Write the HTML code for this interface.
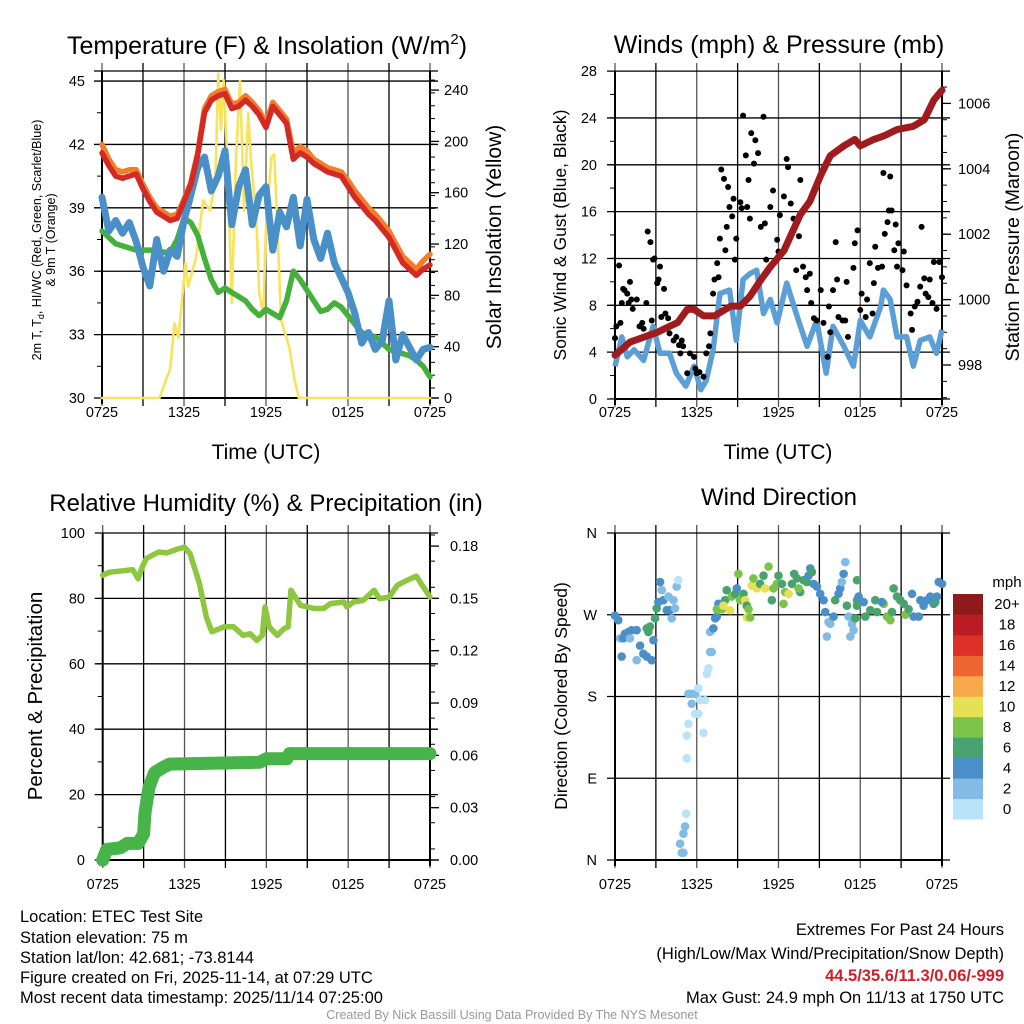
<!DOCTYPE html>
<html><head><meta charset="utf-8"><title>Mesonet Meteogram</title>
<style>
body{margin:0;background:#fff;}
svg{display:block;font-family:"Liberation Sans",Arial,sans-serif;}
</style></head>
<body>
<svg id="fig" width="1024" height="1024" viewBox="0 0 1024 1024" xmlns="http://www.w3.org/2000/svg">
<rect width="1024" height="1024" fill="#fff"/>
<g id="p1"></g>
<g id="p2"></g>
<g id="p3"></g>
<g id="p4"></g>
<g id="txt" font-size="16.5" fill="#000">
<text x="20" y="922">Location: ETEC Test Site</text>
<text x="20" y="943">Station elevation: 75 m</text>
<text x="20" y="963">Station lat/lon: 42.681; -73.8144</text>
<text x="20" y="983">Figure created on Fri, 2025-11-14, at 07:29 UTC</text>
<text x="20" y="1003">Most recent data timestamp: 2025/11/14 07:25:00</text>
<text x="1004" y="935" text-anchor="end">Extremes For Past 24 Hours</text>
<text x="1004" y="959" text-anchor="end">(High/Low/Max Wind/Precipitation/Snow Depth)</text>
<text x="1004" y="981" text-anchor="end" fill="#d0202a" font-weight="bold">44.5/35.6/11.3/0.06/-999</text>
<text x="1004" y="1003" text-anchor="end">Max Gust: 24.9 mph On 11/13 at 1750 UTC</text>
<text x="512" y="1019" text-anchor="middle" font-size="12.5" fill="#999">Created By Nick Bassill Using Data Provided By The NYS Mesonet</text>
</g>
</svg>
<script>
// ---------- DATA ----------
const xTickLabels = ["0725","1325","1925","0125","0725"];
const halfHours = [];
for (let i = 0; i <= 48; i++) halfHours.push(i * 0.5);
const tempRed = [41.6,41.0,40.5,40.4,40.5,40.6,39.9,39.3,38.8,38.6,38.4,38.5,39.3,40.1,41.5,43.5,44.1,44.3,44.4,43.7,43.8,44.1,43.8,43.4,42.8,43.8,43.4,43.0,41.3,41.6,41.4,41.1,40.9,40.7,40.6,40.5,40.0,39.5,39.1,38.7,38.4,38.0,37.6,37.0,36.4,36.1,35.8,36.1,36.3];
const tempOrange = [42.0,41.3,40.8,40.7,40.8,40.8,40.1,39.5,39.0,38.8,38.6,38.7,39.4,40.2,41.6,43.7,44.3,44.5,44.6,43.9,44.0,44.3,44.0,43.6,43.0,44.0,43.6,43.2,41.6,41.9,41.7,41.3,41.1,40.9,40.8,40.7,40.3,39.8,39.4,39.0,38.7,38.3,37.9,37.3,36.7,36.4,36.1,36.5,36.8];
const dewGreen = [37.9,37.6,37.3,37.2,37.1,37.0,37.0,37.0,37.0,36.9,36.9,37.5,38.5,38.3,37.7,36.6,35.6,35.0,35.2,35.0,34.8,34.6,34.2,33.9,34.2,34.0,33.8,34.6,36.0,35.6,35.1,34.6,34.1,34.2,34.5,34.3,33.9,33.5,33.1,33.0,32.9,32.6,32.3,32.2,32.1,32.0,31.8,31.5,31.0];
const windChillBlue = [39.5,37.9,38.4,37.8,38.3,37.4,36.2,35.3,37.5,36.0,37.0,36.7,38.4,39.6,40.9,41.4,39.8,40.5,41.7,38.2,40.0,40.8,38.2,39.6,40.0,37.0,38.8,38.1,39.5,37.2,39.4,37.5,36.6,37.8,36.4,35.7,35.0,34.0,32.6,33.1,32.3,32.7,34.6,31.8,33.0,32.4,31.8,32.3,32.4];
const solarTimes = [0,4.2,5.0,5.3,5.6,6.1,6.3,6.9,7.4,7.9,8.3,8.5,8.7,8.9,9.2,9.5,9.8,10.1,10.4,10.7,10.9,11.3,11.5,11.8,12.0,12.4,12.6,12.8,13.1,13.7,14.1,14.4,24];
const solarValues = [0,0,23,58,47,105,87,110,154,146,170,253,209,248,180,74,185,247,146,222,185,139,82,66,134,188,190,144,61,40,14,0,0];
const tempTicks = [30,33,36,39,42,45];
const solarTicks = [0,40,80,120,160,200,240];

const pressTimes = [0,1.1,3.1,4.6,5.3,5.8,6.5,7.3,8.5,9.2,9.9,10.7,11.4,12.4,13.6,14.3,15.1,15.8,16.8,17.6,18.0,19.0,19.7,20.7,21.9,22.7,23.4,24];
const pressValues = [998.3,998.7,999.0,999.3,999.7,999.7,999.5,999.5,999.8,999.8,1000.1,1000.6,1001.0,1001.5,1002.6,1003.0,1003.8,1004.4,1004.7,1004.9,1004.7,1004.9,1005.0,1005.2,1005.3,1005.5,1006.1,1006.4];
const windTimes = [0,0.5,0.9,1.4,2.1,2.8,3.3,4.0,4.5,5.2,5.8,6.3,6.7,7.2,7.7,8.4,8.9,9.4,9.9,10.4,10.9,11.4,11.9,12.6,13.3,14.1,14.8,15.5,16.0,16.8,17.5,18.0,18.7,19.5,19.7,20.2,20.7,21.4,21.9,22.4,23.1,23.6,24];
const windValues = [2.8,5.3,3.6,4.2,3.3,6.2,3.9,3.9,2.2,1.1,2.8,0.8,1.6,4.2,9.0,9.3,5.0,10.2,10.7,11.0,7.3,8.5,6.5,9.9,7.3,4.5,6.7,2.2,6.2,4.5,2.8,6.7,5.3,7.9,9.3,8.5,5.3,5.3,2.8,5.0,5.3,3.9,5.9];
const gustTimes = [0.0,0.1,0.3,0.4,0.5,0.6,0.7,0.9,1.0,1.1,1.2,1.3,1.6,1.8,2.0,2.1,2.3,2.4,2.6,2.7,2.8,2.9,3.1,3.2,3.3,3.4,3.6,3.7,3.9,4.0,4.3,4.5,4.7,4.8,4.9,5.0,5.3,5.5,5.8,5.9,6.0,6.2,6.5,6.7,6.9,7.0,7.2,7.3,7.5,7.6,7.7,7.8,8.0,8.1,8.2,8.3,8.4,8.6,8.7,8.8,8.9,9.2,9.3,9.4,9.6,9.7,9.8,9.9,10.0,10.2,10.3,10.5,10.7,10.9,11.0,11.1,11.4,11.6,11.9,12.0,12.1,12.4,12.6,12.7,12.9,13.1,13.2,13.3,13.5,13.6,13.8,14.0,14.1,14.3,14.4,14.6,14.8,15.1,15.3,15.6,15.7,15.8,16.0,16.2,16.3,16.4,16.7,16.9,17.0,17.1,17.5,17.6,17.8,18.0,18.1,18.4,18.5,18.7,18.9,19.0,19.1,19.3,19.6,19.7,19.8,20.0,20.1,20.2,20.3,20.5,20.6,20.7,20.8,21.1,21.2,21.4,21.7,21.8,22.0,22.2,22.4,22.5,22.7,22.8,23.0,23.1,23.3,23.4,23.6,23.8,24.0];
const gustValues = [5.2,6.2,11.4,6.5,8.2,9.4,9.3,9.0,8.2,10.0,8.5,7.7,8.5,6.2,6.5,6.0,8.2,14.3,13.4,6.7,11.9,12.0,9.9,10.2,11.3,7.0,9.4,7.3,6.9,5.6,5.0,5.3,4.6,3.9,5.0,4.5,2.2,3.9,3.6,2.6,2.2,2.3,1.9,3.9,4.5,5.6,9.0,10.2,11.6,10.4,13.7,19.6,18.8,12.7,14.7,18.1,16.4,15.6,17.1,11.9,13.7,16.8,16.3,24.2,20.8,16.4,18.7,15.4,22.7,20.1,22.1,21.0,14.7,24.1,15.0,11.9,16.4,17.8,13.6,12.6,15.7,17.3,20.5,19.8,16.7,15.4,14.7,11.0,13.9,18.7,11.3,10.4,9.3,10.7,8.2,6.9,6.7,9.3,6.5,3.6,7.9,5.7,9.3,13.4,10.2,7.0,6.7,6.7,10.0,5.3,11.2,13.3,14.4,7.6,9.0,7.0,8.5,11.6,7.3,9.9,13.0,11.2,11.3,19.3,14.1,15.1,16.1,19.0,16.1,12.7,14.9,11.3,13.3,11.0,12.6,9.7,7.3,5.9,7.9,8.3,9.6,14.7,10.3,9.0,8.7,10.2,8.2,11.7,7.7,11.7,10.4];
const windTicks = [0,4,8,12,16,20,24,28];
const pressTicks = [998,1000,1002,1004,1006];

const rhTimes = [0,0.5,1.8,2.2,2.6,2.9,3.2,4.1,4.7,5.4,6.0,6.4,7.1,7.6,8.0,8.9,9.6,10.3,10.8,11.3,11.7,11.9,12.2,12.8,13.3,13.6,13.8,14.5,15.5,16.2,16.7,17.7,17.9,18.4,19.1,19.9,20.3,21.0,21.6,22.3,23.0,24];
const rhValues = [87.1,88,88.6,88.8,86,89.6,92.2,94.2,93.9,95,95.7,93.7,84.5,74.3,69.8,71.3,71.3,68.7,69.2,67.2,68.7,77.4,71.3,68.7,70.8,71.3,82.5,77.9,76.9,76.9,78.4,78.9,77.4,78.9,79.4,82.5,79.9,80.4,84,85.5,86.8,80.4];
const precipTimes = [0,0.3,1.3,1.8,2.6,3.0,3.1,3.2,3.4,3.8,4.4,4.9,11.5,12.0,13.5,13.7,24];
const precipValues = [0,0.006,0.007,0.0095,0.0095,0.015,0.027,0.032,0.042,0.050,0.053,0.055,0.056,0.058,0.058,0.061,0.061];
const rhTicks = [0,20,40,60,80,100];
const precipTicks = ["0.00","0.03","0.06","0.09","0.12","0.15","0.18"];

const dirTimes = [0,0.24,0.37,0.61,0.73,0.98,1.22,1.59,1.1,0.49,1.59,1.84,2.08,2.33,2.69,2.33,2.57,2.45,2.82,2.94,3.06,3.18,3.31,3.43,3.55,3.8,4.04,4.16,4.29,4.41,4.53,4.65,3.92,
 5.39,5.63,5.88,6.12,6.25,6.61,5.63,5.88,6.12,5.39,5.27,6.49,5.27,5.22,5.14,5.02,4.78,4.9,5.02,6.74,6.86,6.98,7.1,6.98,7.22,7.35,7.47,
 7.59,7.47,7.84,8.08,8.2,7.96,8.45,8.57,8.82,9.06,8.94,9.18,9.43,9.55,9.67,9.8,9.67,9.92,10.04,10.16,10.41,10.65,10.9,11.02,11.27,11.51,11.63,11.88,12.0,12.25,12.37,12.49,12.74,12.98,13.15,13.35,13.59,13.47,13.84,14.08,14.2,14.33,14.45,14.57,14.82,15.06,15.31,15.43,15.67,15.8,15.55,16.04,16.16,16.41,16.53,16.65,16.78,16.9,17.02,17.14,17.39,17.51,17.27,17.63,17.76,17.76,17.88,17.76,18.25,18.37,18.74,19.1,19.23,19.72,19.59,19.96,20.21,20.33,20.45,20.7,20.94,21.19,21.31,21.55,21.8,21.92,22.29,22.41,22.65,22.9,23.14,23.39,23.51,23.63,23.76,24.0];
const dirValues = [269,264,244,244,249,251,253,253,244,224,220,236,227,224,220,255,257,251,242,266,277,284,306,297,286,275,275,266,286,277,301,308,290,
 183,183,183,189,176,176,172,161,161,150,137,140,112,51,37,29,18,8,8,205,211,229,229,251,255,266,268,
 282,276,276,286,297,280,275,290,293,315,299,286,293,286,280,276,267,267,302,310,299,304,313,299,323,286,299,304,313,304,282,295,293,304,315,310,295,299,308,306,313,321,317,304,301,293,286,273,262,260,246,268,286,293,299,306,315,328,280,268,260,253,246,266,308,286,290,280,284,268,275,286,273,282,284,268,264,273,299,290,286,282,270,276,293,268,268,286,280,286,290,282,284,290,306,304];
const dirSpeeds = [4,4,2,4,4,4,4,4,2,4,2,4,4,4,4,6,6,6,4,6,6,4,4,2,4,4,4,2,2,2,2,0,2,
 2,2,2,0,0,0,2,0,0,0,0,0,0,0,2,2,2,2,2,0,0,2,2,2,4,4,4,
 4,8,8,6,6,10,10,8,6,8,4,8,6,10,6,8,10,8,10,8,10,6,6,10,8,6,8,8,6,6,8,8,10,6,6,6,6,8,6,6,4,4,6,4,4,4,4,4,2,2,2,4,6,4,4,2,4,2,6,2,2,2,2,6,6,6,4,6,4,6,6,6,6,8,4,8,8,6,6,6,6,6,8,6,4,4,4,4,4,4,4,4,6,4,4,4,6];
const dirTickLabels = ["N","E","S","W","N"];
const colorbarLabels = ["0","2","4","6","8","10","12","14","16","18","20+"];
const colorbarColors = ["#b8e3f8","#82bce6","#4a8fc8","#48a36e","#7cc34a","#e6e055","#f6a94a","#ed6530","#dd3127","#b91d23","#8e1a1c"];

// ---------- HELPERS ----------
const NS = "http://www.w3.org/2000/svg";
function el(parent, tag, attrs, text) {
  const e = document.createElementNS(NS, tag);
  for (const k in attrs) e.setAttribute(k, attrs[k]);
  if (text !== undefined) e.textContent = text;
  parent.appendChild(e);
  return e;
}
function pathFrom(xs, ys, xf, yf) {
  return xs.map((t, i) => (i ? "L" : "M") + xf(t).toFixed(1) + " " + yf(ys[i]).toFixed(1)).join("");
}
function frame(g, L, R, T, B, hLines, vCount) {
  for (let i = 0; i <= vCount; i++) {
    const x = L + (R - L) * i / vCount;
    const ln = el(g, "line", {x1: x, x2: x, y1: T - 8, y2: B + 8, stroke: (i % 2 ? "#000" : "#555"), "stroke-width": 1.3});
    
    
  }
  hLines.forEach(y => {
    const ln = el(g, "line", {x1: L - 8, x2: R + 8, y1: y, y2: y, stroke: "#000", "stroke-width": 1.3});
    
    
  });
  const ax = el(g, "path", {d: `M${L} ${T}V${B + 6}M${R} ${T}V${B + 6}M${L} ${B}H${R}`, stroke: "#000", "stroke-width": 2, fill: "none"});
  
  
}
function xLabels(g, L, R, y) {
  xTickLabels.forEach((s, i) => {
    const t = el(g, "text", {x: L + (R - L) * i / 4, y: y, "text-anchor": "middle", "font-size": 14.5}, s);
    
    
  });
}
function minorTicks(g, x, y0, y1, step, dir) {
  for (let y = y1; y <= y0 + 0.1; y += step) {
    const m = el(g, "line", {x1: x, x2: x + dir * 5, y1: y, y2: y, stroke: "#000", "stroke-width": 1});
    
    
  }
}

// ---------- PANEL 1 ----------
(function () {
  const g = document.getElementById("p1");
  const L = 102, R = 430, T = 71, B = 398;
  const x = h => L + h * (R - L) / 24;
  const yT = t => 398 - (t - 30) * 21.13;
  const yS = s => 398 - s * 1.283;
  frame(g, L, R, T, B, tempTicks.map(yT).concat([T]), 8);
  minorTicks(g, L, B, yT(45), 21.13 * 1.5, -1);
  minorTicks(g, R, B, yS(240) - 10, 1.283 * 10, 1);
  tempTicks.forEach(t => {
    const s = el(g, "text", {x: 85, y: yT(t) + 5, "text-anchor": "end", "font-size": 14.5}, t);
    
    
  });
  solarTicks.forEach(v => {
    el(g, "line", {x1: R, x2: R + 9, y1: yS(v), y2: yS(v), stroke: "#000", "stroke-width": 1.3});
    const s = el(g, "text", {x: 444, y: yS(v) + 5, "font-size": 14.5}, v);
    
    
  });
  xLabels(g, L, R, 417);
  const series = [
    [solarTimes, solarValues, "#f9e35a", 2.6, yS, "solar-line"],
    [halfHours, dewGreen, "#45b03c", 5.5, yT, "dewpoint-line"],
    [halfHours, windChillBlue, "#4a90c8", 7, yT, "windchill-line"],
    [halfHours, tempOrange, "#f47d2c", 5.5, yT, "temp-9m-line"],
    [halfHours, tempRed, "#d42a26", 5.5, yT, "temp-2m-line"]
  ];
  series.forEach(s => {
    const p = el(g, "path", {d: pathFrom(s[0], s[1], x, s[4]), stroke: s[2], "stroke-width": s[3], fill: "none", "stroke-linejoin": "round", "stroke-linecap": "round"});
    
    
  });
  const tt = el(g, "text", {x: 267, y: 54, "text-anchor": "middle", "font-size": 25});
  
  
  tt.innerHTML = 'Temperature (F) &amp; Insolation (W/m<tspan dy="-10" font-size="15">2</tspan><tspan dy="10">)</tspan>';
  const xt = el(g, "text", {x: 266, y: 459, "text-anchor": "middle", "font-size": 21}, "Time (UTC)");
  
  
  const yl = el(g, "text", {transform: "translate(41,240) rotate(-90)", "text-anchor": "middle", "font-size": 12.5});
  
  
  yl.innerHTML = '2m T, T<tspan dy="3" font-size="9">d</tspan><tspan dy="-3">, HI/WC (Red, Green, Scarlet/Blue)</tspan>';
  const yl2 = el(g, "text", {transform: "translate(55,240) rotate(-90)", "text-anchor": "middle", "font-size": 12.5}, "& 9m T (Orange)");
  
  
  const yr = el(g, "text", {transform: "translate(501,237) rotate(-90)", "text-anchor": "middle", "font-size": 21}, "Solar Insolation (Yellow)");
  
  
})();

// ---------- PANEL 2 ----------
(function () {
  const g = document.getElementById("p2");
  const L = 615, R = 942, T = 71, B = 399;
  const x = h => L + h * (R - L) / 24;
  const yW = m => 399 - m * 11.71;
  const yP = p => 365 - (p - 998) * 32.7;
  frame(g, L, R, T, B, windTicks.map(yW), 8);
  minorTicks(g, L, B, T, 11.71 * 2, -1);
  minorTicks(g, R, B, yP(1006.5), 32.7 / 2, 1);
  windTicks.forEach(t => {
    const s = el(g, "text", {x: 597, y: yW(t) + 5, "text-anchor": "end", "font-size": 14.5}, t);
    
    
  });
  pressTicks.forEach(v => {
    el(g, "line", {x1: R, x2: R + 9, y1: yP(v), y2: yP(v), stroke: "#000", "stroke-width": 1.3});
    const s = el(g, "text", {x: 958, y: yP(v) + 5, "font-size": 14.5}, v);
    
    
  });
  xLabels(g, L, R, 417);
  const wp = el(g, "path", {d: pathFrom(windTimes, windValues, x, yW), stroke: "#5b9fd6", "stroke-width": 5.5, fill: "none", "stroke-linejoin": "round"});
  
  
  gustTimes.forEach((t, i) => {
    const c = el(g, "circle", {cx: x(t), cy: yW(gustValues[i]), r: 3, fill: "#000"});
    
    
  });
  const pp = el(g, "path", {d: pathFrom(pressTimes, pressValues, x, yP), stroke: "#a01b1e", "stroke-width": 7, fill: "none", "stroke-linejoin": "round", "stroke-linecap": "round"});
  
  
  const tt = el(g, "text", {x: 779, y: 53, "text-anchor": "middle", "font-size": 25}, "Winds (mph) & Pressure (mb)");
  
  
  const xt = el(g, "text", {x: 778, y: 459, "text-anchor": "middle", "font-size": 21}, "Time (UTC)");
  
  
  const yl = el(g, "text", {transform: "translate(566,235) rotate(-90)", "text-anchor": "middle", "font-size": 17.5}, "Sonic Wind & Gust (Blue, Black)");
  
  
  const yr = el(g, "text", {transform: "translate(1019,247) rotate(-90)", "text-anchor": "middle", "font-size": 19.5}, "Station Pressure (Maroon)");
  
  
})();

// ---------- PANEL 3 ----------
(function () {
  const g = document.getElementById("p3");
  const L = 102.7, R = 430, T = 533, B = 860;
  const x = h => L + h * (R - L) / 24;
  const yR = r => 860 - r * 3.27;
  const yPr = v => 860 - v / 0.1875 * 327;
  frame(g, L, R, T, B, rhTicks.map(yR), 8);
  minorTicks(g, L, B, T, 3.27 * 10, -1);
  minorTicks(g, R, B, T + 2, 327 * 0.015 / 0.1875, 1);
  rhTicks.forEach(t => {
    const s = el(g, "text", {x: 85, y: yR(t) + 5, "text-anchor": "end", "font-size": 14.5}, t);
    
    
  });
  precipTicks.forEach(v => {
    el(g, "line", {x1: R, x2: R + 9, y1: yPr(+v), y2: yPr(+v), stroke: "#000", "stroke-width": 1.3});
    const s = el(g, "text", {x: 450, y: yPr(+v) + 5, "font-size": 14.5}, v);
    
    
  });
  xLabels(g, L, R, 889);
  const rp = el(g, "path", {d: pathFrom(rhTimes, rhValues, x, yR), stroke: "#8dc63f", "stroke-width": 5.5, fill: "none", "stroke-linejoin": "round", "stroke-linecap": "round"});
  
  
  const pp = el(g, "path", {d: pathFrom(precipTimes, precipValues, x, yPr), stroke: "#46b448", "stroke-width": 13, fill: "none", "stroke-linejoin": "round", "stroke-linecap": "round"});
  
  
  const tt = el(g, "text", {x: 266, y: 511, "text-anchor": "middle", "font-size": 24}, "Relative Humidity (%) & Precipitation (in)");
  
  
  const yl = el(g, "text", {transform: "translate(42,696) rotate(-90)", "text-anchor": "middle", "font-size": 20.5}, "Percent & Precipitation");
  
  
})();

// ---------- PANEL 4 ----------
(function () {
  const g = document.getElementById("p4");
  const L = 615, R = 942, T = 533, B = 860;
  const x = h => L + h * (R - L) / 24;
  const yD = d => 860 - d * 327 / 360;
  frame(g, L, R, T, B, [0, 90, 180, 270, 360].map(yD), 8);
  dirTickLabels.forEach((s, i) => {
    const t = el(g, "text", {x: 597, y: yD(i * 90) + 5, "text-anchor": "end", "font-size": 14.5}, s);
    
    
  });
  xLabels(g, L, R, 889);
  const color = s => colorbarColors[Math.min(10, Math.max(0, Math.floor(s / 2)))];
  dirTimes.forEach((t, i) => {
    const c = el(g, "circle", {cx: x(t), cy: yD(dirValues[i]), r: 4.3, fill: color(dirSpeeds[i])});
    
    
  });
  const cbTop = 594, cbH = 225 / 11;
  colorbarColors.forEach((c, i) => {
    const r = el(g, "rect", {x: 953, y: cbTop + (10 - i) * cbH, width: 30, height: cbH + 0.5, fill: c});
    
    
    const t = el(g, "text", {x: 1007, y: cbTop + (10 - i) * cbH + cbH / 2 + 5, "text-anchor": "middle", "font-size": 15}, colorbarLabels[i]);
    
    
  });
  const u = el(g, "text", {x: 1007, y: 587, "text-anchor": "middle", "font-size": 15}, "mph");
  
  
  const tt = el(g, "text", {x: 779, y: 505, "text-anchor": "middle", "font-size": 24}, "Wind Direction");
  
  
  const yl = el(g, "text", {transform: "translate(567,696) rotate(-90)", "text-anchor": "middle", "font-size": 17.5}, "Direction (Colored By Speed)");
  
  
})();
</script>
</body></html>
